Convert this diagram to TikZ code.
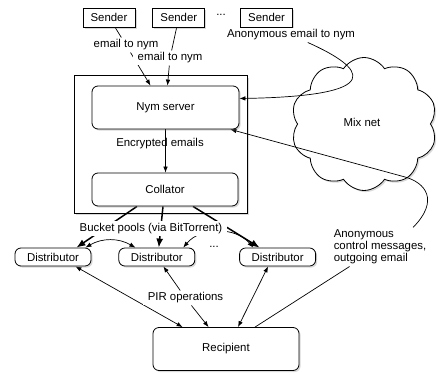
\documentclass[tikz,border=0pt]{standalone}
\usepackage{fontspec}
\setmainfont{Liberation Sans}
\usetikzlibrary{positioning}
\usetikzlibrary{shapes.symbols}
\usetikzlibrary{shadows}
\usetikzlibrary{arrows.meta}

\pgfdeclarelayer{back}
\pgfdeclarelayer{wires}
\pgfsetlayers{back,wires,main}

\tikzset{
  shade box/.style={drop shadow={shadow xshift=1.6pt, shadow yshift=-1.6pt, opacity=0.3}},
  box/.style={draw, fill=white, line width=0.8pt, minimum width=52pt, minimum height=19pt, inner sep=1pt, shade box},
  rbox/.style={box, rounded corners=6pt},
  lbl/.style={fill=white, inner xsep=5pt, inner ysep=2pt},
  line/.style={line width=0.7pt},
  wire/.style={line, -{Latex[length=6pt,width=4.5pt]}},
  biwire/.style={line, {Latex[length=6pt,width=4.5pt]}-{Latex[length=6pt,width=4.5pt]}},
  bigwire/.style={line width=1.5pt, -{Latex[length=9pt,width=7pt]}},
}

\begin{document}
\begin{tikzpicture}[x=1pt, y=1pt, font=\fontsize{11.4}{12.2}\selectfont]
\useasboundingbox (0,0) rectangle (438,-374);
% senders
\node[box] (send1) at (109,-17.5) {Sender};
\node[box, right=17pt of send1] (send2) {Sender};
\node[box, right=35pt of send2] (send3) {Sender};
\node (dots1) at (221,-15) {...};
% labels under the senders
\node[lbl] (tonym1) at (126,-45) {email to nym};
\node[lbl] (tonym2) at (170,-58) {email to nym};
\node[lbl] (anonmail) at (291,-35) {Anonymous email to nym};
% server machine
\begin{pgfonlayer}{back}
\node[draw, fill=white, line width=1pt, minimum width=173pt, minimum height=137pt, shade box] (server) at (160.5,-144.5) {};
\node[cloud, draw, fill=white, line width=0.8pt, cloud puffs=10, cloud puff arc=115, aspect=1.04,
      minimum width=146pt, minimum height=133pt, shade box] (mixnet) at (364,-124) {};
\end{pgfonlayer}
\node (mixlabel) at (362,-122) {Mix net};
\node[rbox, minimum width=147pt, minimum height=43pt] (nym) at (165.5,-107.5) {Nym server};
\node[rbox, minimum width=146pt, minimum height=33pt] (collator) at (165,-189.5) {Collator};
\node (encr) at (160,-144) {Encrypted emails};
% distributors
\node[lbl] (bucket) at (151,-228.5) {Bucket pools (via BitTorrent)};
\node[rbox, minimum width=76pt, minimum height=18pt] (dist1) at (53,-257) {Distributor};
\node[rbox, minimum width=76pt, minimum height=18pt, right=27pt of dist1] (dist2) {Distributor};
\node[rbox, minimum width=76pt, minimum height=18pt, right=44pt of dist2] (dist3) {Distributor};
\node (dots2) at (214,-247) {...};
% recipient
\node[lbl] (pir) at (185.5,-298) {PIR operations};
\node[rbox, minimum width=146pt, minimum height=43pt] (recip) at (226,-349) {Recipient};
\node[lbl, align=left] (ctrl) at (380,-247) {Anonymous\\control messages,\\outgoing email};
\coordinate (turn) at (405,-177);
% connectors
\begin{pgfonlayer}{wires}
\draw[line] (send1) -- (tonym1);
\draw[wire] (tonym1) -- ([xshift=-15pt]nym.north);
\draw[line] (send2) -- (tonym2);
\draw[wire] (tonym2) -- ([xshift=2pt]nym.north);
\draw[line] (send3) -- (anonmail);
\draw[wire] (anonmail) .. controls (365,-68) and (390,-96) .. ([yshift=9pt]nym.east);
\draw[wire] (nym.south) -- (nym.south |- collator.north);
\draw[bigwire] ([xshift=-28pt]collator.south) -- ([xshift=-15pt]dist1.north east);
\draw[bigwire] ([xshift=-2pt]collator.south) -- ([xshift=2pt]dist2.north);
\draw[bigwire] ([xshift=28pt]collator.south) -- ([xshift=-18pt]dist3.north);
\draw[biwire] ([xshift=-6pt]dist1.north east) to[bend left=30] ([xshift=17pt]dist2.north west);
\draw[biwire] ([xshift=-12pt]dist2.north east) to[bend left=50] ([xshift=14pt]dist3.north west);
\draw[biwire] ([xshift=-16pt]dist1.south east) -- ([xshift=30pt]recip.north west);
\draw[wire] (pir) -- (dist2);
\draw[wire] (pir) -- (recip);
\draw[biwire] ([xshift=-9.5pt]dist3.south) -- ([xshift=12pt]recip.north);
\draw[line] ([xshift=29pt]recip.north) -- (ctrl);
\draw[wire] ([xshift=33pt]ctrl.north) .. controls (440,-200) and (425,-182.5) .. (turn) -- ([xshift=-9pt]nym.south east);
\end{pgfonlayer}
\end{tikzpicture}
\end{document}
